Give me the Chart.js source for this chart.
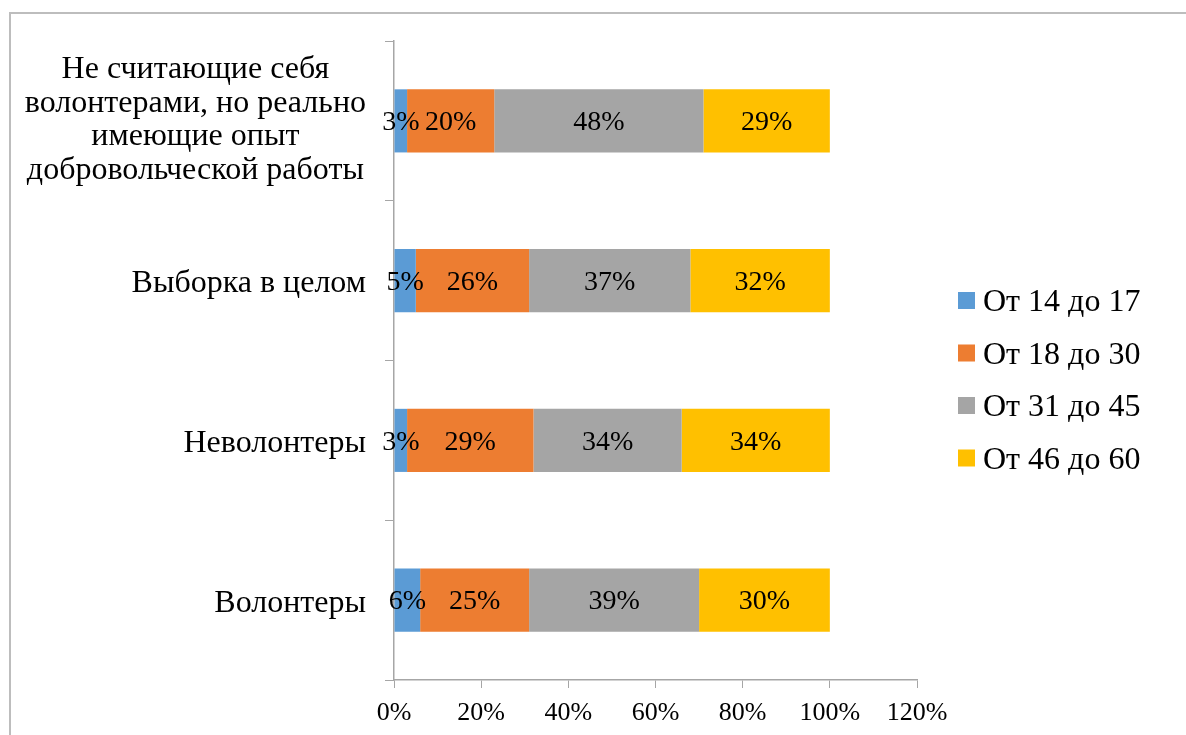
<!DOCTYPE html>
<html>
<head>
    <meta charset="UTF-8">
    <title>Возрастной состав</title>
    <script src="https://cdn.jsdelivr.net/npm/chart.js"></script>
    <style>
        body {
            margin: 0;
            background: #ffffff;
            overflow: hidden;
        }
        .frame {
            position: absolute;
            left: 9px;
            top: 12px;
            width: 1300px;
            height: 800px;
            border: 2px solid #bdbdbd;
        }
        .wrap {
            position: absolute;
            left: 0;
            top: 0;
            width: 1186px;
            height: 735px;
        }
    </style>
</head>
<body>
    <div class="frame"></div>
    <div class="wrap">
        <canvas id="ageChart" width="1186" height="735"></canvas>
    </div>

    <script>
        // Data
        const categories = [
            ['Не считающие себя', 'волонтерами, но реально', 'имеющие опыт', 'добровольческой работы'],
            'Выборка в целом',
            'Неволонтеры',
            'Волонтеры'
        ];
        const seriesNames = ['От 14 до 17', 'От 18 до 30', 'От 31 до 45', 'От 46 до 60'];
        const age14to17 = [3, 5, 3, 6];
        const age18to30 = [20, 26, 29, 25];
        const age31to45 = [48, 37, 34, 39];
        const age46to60 = [29, 32, 34, 30];
        const xTicks = [0, 20, 40, 60, 80, 100, 120];

        const colors = ['#5b9bd5', '#ed7d31', '#a5a5a5', '#ffc000'];
        const serif = '"Liberation Serif", "Times New Roman", serif';
        const axisColor = '#a6a6a6';

        // draws values, category labels and legend
        const extras = {
            id: 'extras',
            afterDatasetsDraw(chart) {
                const ctx = chart.ctx;
                ctx.save();
                ctx.fillStyle = '#000';
                ctx.font = '28px ' + serif;
                ctx.textAlign = 'center';
                ctx.textBaseline = 'middle';
                chart.data.datasets.forEach((ds, di) => {
                    chart.getDatasetMeta(di).data.forEach((bar, i) => {
                        const p = bar.getProps(['x', 'y', 'base']);
                        ctx.fillText(ds.data[i] + '%', (p.x + p.base) / 2, p.y + 2);
                    });
                });

                // category labels
                const y = chart.scales.y;
                ctx.font = '32px ' + serif;
                categories.forEach((lab, i) => {
                    const lines = Array.isArray(lab) ? lab : [lab];
                    const w = Math.max(...lines.map(l => ctx.measureText(l).width));
                    const cx = 366 - w / 2;
                    const cy = y.getPixelForValue(i) + (lines.length > 1 ? -1 : 3);
                    const lh = 33.5;
                    lines.forEach((l, k) => {
                        ctx.fillText(l, cx, cy + (k - (lines.length - 1) / 2) * lh);
                    });
                });

                // legend
                ctx.textAlign = 'left';
                ctx.font = '32px ' + serif;
                seriesNames.forEach((name, i) => {
                    const ly = 301 + i * 52.5;
                    ctx.fillStyle = colors[i];
                    ctx.fillRect(958, ly - 9, 17, 17);
                    ctx.fillStyle = '#000';
                    ctx.fillText(name, 983, ly + 2);
                });
                ctx.restore();
            }
        };

        const ctx = document.getElementById('ageChart').getContext('2d');
        new Chart(ctx, {
            type: 'bar',
            data: {
                labels: categories,
                datasets: [age14to17, age18to30, age31to45, age46to60].map((d, i) => ({
                    label: seriesNames[i],
                    data: d,
                    backgroundColor: colors[i],
                    borderWidth: 0,
                    barPercentage: 0.395,
                    categoryPercentage: 1
                }))
            },
            options: {
                indexAxis: 'y',
                responsive: false,
                animation: false,
                layout: {
                    padding: { top: 41, right: 269, left: 0, bottom: 0 }
                },
                plugins: {
                    legend: { display: false },
                    tooltip: { enabled: false }
                },
                scales: {
                    x: {
                        stacked: true,
                        min: 0,
                        max: 120,
                        afterBuildTicks: s => { s.ticks = xTicks.map(v => ({ value: v })); },
                        afterFit: s => { s.height = 55; },
                        ticks: {
                            callback: v => v + '%',
                            color: '#000',
                            font: { family: serif, size: 26 },
                            padding: 10,
                            maxRotation: 0
                        },
                        grid: {
                            drawOnChartArea: false,
                            color: axisColor,
                            tickLength: 8
                        },
                        border: { color: axisColor, width: 1.5 }
                    },
                    y: {
                        stacked: true,
                        afterFit: s => { s.width = 394; },
                        ticks: { display: false },
                        grid: {
                            drawOnChartArea: false,
                            offset: true,
                            color: axisColor,
                            tickLength: 9
                        },
                        border: { color: axisColor, width: 1.5 }
                    }
                }
            },
            plugins: [extras]
        });
    </script>
</body>
</html>
